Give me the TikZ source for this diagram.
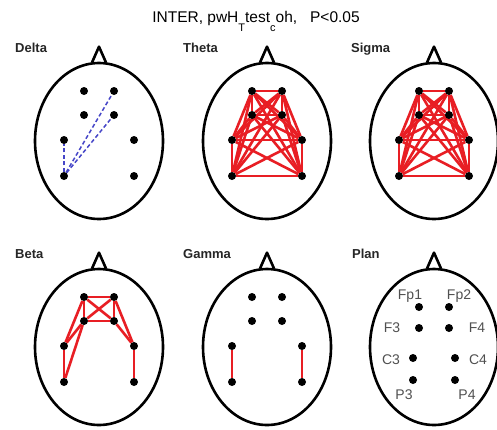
\documentclass[tikz,border=0pt]{standalone}
\usepackage{fontspec}
\setmainfont{Liberation Sans}
\usetikzlibrary{shapes.geometric,backgrounds}
\definecolor{conred}{RGB}{232,30,36}
\definecolor{conblue}{RGB}{70,70,200}
\definecolor{labgray}{RGB}{80,80,80}
\tikzset{
  headline/.style={line width=2.6pt, black, line join=round},
  headshape/.style={draw, ellipse, line width=2.6pt, inner sep=0pt, minimum width=128pt, minimum height=156pt},
  elec/.style={circle, fill=black, inner sep=0pt, minimum size=8pt},
  redcon/.style={conred, line width=2.6pt},
  bluecon/.style={conblue, line width=1.5pt, dash pattern=on 4pt off 2.5pt},
  bandlabel/.style={font=\fontsize{13}{13}\selectfont\bfseries, anchor=base west, inner sep=0pt, text=black!85},
  eleclabel/.style={font=\fontsize{14}{14}\selectfont, text=labgray, inner sep=0pt},
}
\newcommand\drawhead[3]{%
  \node[headshape] (#1head) at (#2,#3) {};
  \draw[headline] ([xshift=-7pt,yshift=-0.8pt]#1head.north) -- ([yshift=15pt]#1head.north) -- ([xshift=7pt,yshift=-0.8pt]#1head.north);
}
\newcommand\stdelec[3]{%
  \node[elec] (#1Fp1) at (#2-15,#3-50) {};
  \node[elec] (#1Fp2) at (#2+15,#3-50) {};
  \node[elec] (#1F3) at (#2-15,#3-26) {};
  \node[elec] (#1F4) at (#2+15,#3-26) {};
  \node[elec] (#1C3) at (#2-35,#3-1) {};
  \node[elec] (#1C4) at (#2+35,#3-1) {};
  \node[elec] (#1P3) at (#2-35,#3+35) {};
  \node[elec] (#1P4) at (#2+35,#3+35) {};
}
\newcommand\fullgraph[1]{%
  \foreach \a [count=\i] in {Fp1,Fp2,F3,F4,C3,C4,P3,P4} {
    \foreach \b [count=\j] in {Fp1,Fp2,F3,F4,C3,C4,P3,P4} {
      \ifnum\j>\i \draw[redcon] (#1\a) -- (#1\b); \fi
    }
  }
}
\begin{document}
\begin{tikzpicture}[x=1pt,y=-1pt]
\useasboundingbox (0,0) rectangle (497,429);

\node[font=\fontsize{15.5}{15.5}\selectfont, anchor=base, inner sep=0pt] (title) at (256,22)
  {INTER, pwH\raisebox{-9.5pt}{\fontsize{11}{11}\selectfont T}test\raisebox{-9.5pt}{\fontsize{11}{11}\selectfont c}oh,\ \ \ P<0.05};

\node[bandlabel] (ldelta) at (15,52) {Delta};
\node[bandlabel] (ltheta) at (183,52) {Theta};
\node[bandlabel] (lsigma) at (351,52) {Sigma};
\node[bandlabel] (lbeta) at (15,258) {Beta};
\node[bandlabel] (lgamma) at (183,258) {Gamma};
\node[bandlabel] (lplan) at (352,258) {Plan};

\drawhead{D}{99}{141}
\drawhead{T}{267}{141}
\drawhead{S}{434}{141}
\drawhead{B}{99}{347}
\drawhead{G}{267}{347}
\drawhead{P}{434}{347}

\stdelec{D}{99}{141}
\stdelec{T}{267}{141}
\stdelec{S}{434}{141}
\stdelec{B}{99}{347}
\stdelec{G}{267}{347}

% Plan electrodes
\node[elec] (PFp1) at (419,307) {};
\node[elec] (PFp2) at (449,307) {};
\node[elec] (PF3) at (419,328) {};
\node[elec] (PF4) at (449,328) {};
\node[elec] (PC3) at (413,358) {};
\node[elec] (PC4) at (455,358) {};
\node[elec] (PP3) at (413,380) {};
\node[elec] (PP4) at (455,380) {};
\node[eleclabel] (tFp1) at (410,296) {Fp1};
\node[eleclabel] (tFp2) at (459,296) {Fp2};
\node[eleclabel] (tF3) at (392,328) {F3};
\node[eleclabel] (tF4) at (477,328) {F4};
\node[eleclabel] (tC3) at (391,360) {C3};
\node[eleclabel] (tC4) at (478,360) {C4};
\node[eleclabel] (tP3) at (404,395) {P3};
\node[eleclabel] (tP4) at (467,395) {P4};

\begin{pgfonlayer}{background}
\fill[white] (0,0) rectangle (497,429);
% Delta
\draw[bluecon] (DP3) -- (DC3);
\draw[bluecon] (DP3) -- (DFp2);
\draw[bluecon] (DP3) -- (DF4);
% Theta, Sigma
\fullgraph{T}
\fullgraph{S}
% Beta
\foreach \u/\v in {Fp1/Fp2, F3/F4, Fp1/F4, Fp2/F3, Fp1/F3, Fp2/F4, Fp1/C3, F3/C3, F3/P3, C3/P3, Fp2/C4, F4/C4, C4/P4}
  \draw[redcon] (B\u) -- (B\v);
% Gamma
\draw[redcon] (GC3) -- (GP3);
\draw[redcon] (GC4) -- (GP4);
\end{pgfonlayer}
\end{tikzpicture}
\end{document}
